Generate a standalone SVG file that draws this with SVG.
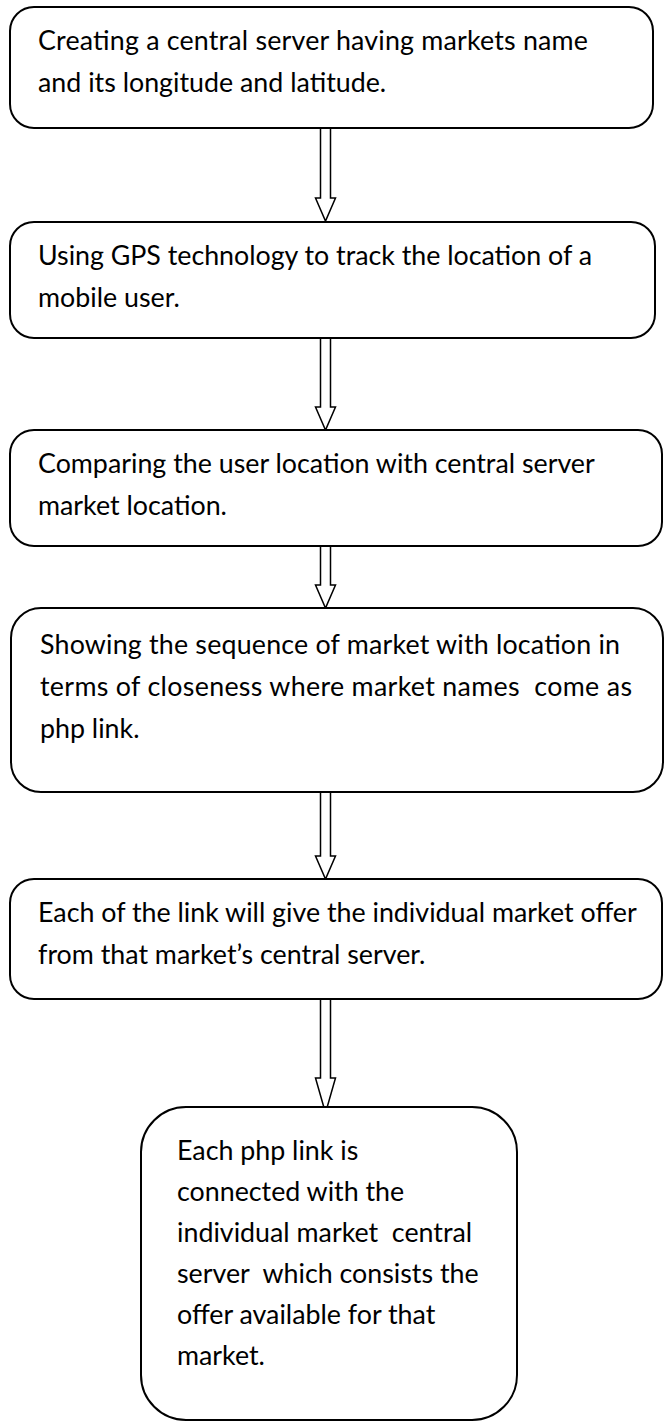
<svg xmlns="http://www.w3.org/2000/svg" width="664" height="1423" viewBox="0 0 664 1423">
<style>
.box{fill:#fff;stroke:#000;stroke-width:2}
.arr{fill:#fff;stroke:#000;stroke-width:1.5;stroke-linejoin:miter}
text{font-family:Lato,"Open Sans","Liberation Sans",sans-serif;font-size:26.8px;fill:#000;white-space:pre}
</style>
<rect width="664" height="1423" fill="#fff"/>
<g id="connectors">
<path class="arr" d="M320.5,128 V198 H315.5 L325.5,221 L335.5,198 H330.5 V128 Z"/>
<path class="arr" d="M320.5,338 V407 H315.5 L325.5,430 L335.5,407 H330.5 V338 Z"/>
<path class="arr" d="M320.5,546 V585 H315.5 L325.5,608 L335.5,585 H330.5 V546 Z"/>
<path class="arr" d="M320.5,792 V856 H315.5 L325.5,879 L335.5,856 H330.5 V792 Z"/>
<path class="arr" d="M320.5,999 V1078 H315.5 L325.5,1113 L335.5,1078 H330.5 V999 Z"/>
</g>
<g id="n1">
<rect class="box" x="10" y="7" width="643" height="121" rx="24"/>
<text x="38" y="50" textLength="550" lengthAdjust="spacing">Creating a central server having markets name</text>
<text x="38" y="92">and its longitude and latitude.</text>
</g>
<g id="n2">
<rect class="box" x="10" y="222" width="645" height="116" rx="24"/>
<text x="38" y="265" textLength="554" lengthAdjust="spacing">Using GPS technology to track the location of a</text>
<text x="38" y="307">mobile user.</text>
</g>
<g id="n3">
<rect class="box" x="10" y="430" width="652" height="116" rx="24"/>
<text x="38" y="473">Comparing the user location with central server</text>
<text x="38" y="515">market location.</text>
</g>
<g id="n4">
<rect class="box" x="11" y="608" width="652" height="184" rx="30"/>
<text x="40" y="654" textLength="580" lengthAdjust="spacing">Showing the sequence of market with location in</text>
<text x="40" y="696" xml:space="preserve" textLength="592" lengthAdjust="spacing">terms of closeness where market names  come as</text>
<text x="40" y="738">php link.</text>
</g>
<g id="n5">
<rect class="box" x="10" y="879" width="652" height="120" rx="24"/>
<text x="38" y="922">Each of the link will give the individual market offer</text>
<text x="38" y="964">from that market’s central server.</text>
</g>
<g id="n6">
<rect class="box" x="141" y="1107" width="376" height="313" rx="45"/>
<text x="177" y="1160">Each php link is</text>
<text x="177" y="1201">connected with the</text>
<text x="177" y="1242" xml:space="preserve">individual market  central</text>
<text x="177" y="1283" xml:space="preserve">server  which consists the</text>
<text x="177" y="1324">offer available for that</text>
<text x="177" y="1365">market.</text>
</g>
</svg>
